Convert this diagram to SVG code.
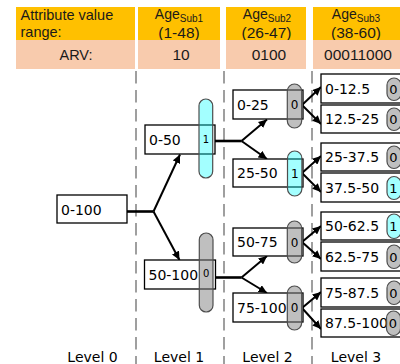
<svg xmlns="http://www.w3.org/2000/svg" width="400" height="364" viewBox="0 0 400 364">
<style>
.hy{fill:#FFC000}
.hp{fill:#F8CBAD}
.ht{font-family:"Liberation Sans",Arial,sans-serif;fill:#1a1a1a}
.box{fill:#fff;stroke:#000;stroke-width:1.3}
.lbl{font-family:"DejaVu Sans",Verdana,sans-serif;font-size:14px;fill:#000}
.p0{fill:#808080;fill-opacity:0.5;stroke:#4d4d4d;stroke-width:1.2}
.p1{fill:#00FFFF;fill-opacity:0.36;stroke:#4d4d4d;stroke-width:1.2}
.pt{font-family:"DejaVu Sans",Verdana,sans-serif;fill:#000;text-anchor:middle}
.dash{stroke:#808080;stroke-width:1.5;stroke-dasharray:12.5 6.5;fill:none}
.stem{stroke:#000;stroke-width:2.6;fill:none}
.arr{stroke:#000;stroke-width:2;fill:none;marker-end:url(#ah)}
.lev{font-family:"DejaVu Sans",Verdana,sans-serif;font-size:14px;fill:#000;text-anchor:middle}
</style>
<defs>
<marker id="ah" markerUnits="userSpaceOnUse" markerWidth="9" markerHeight="8" refX="8.5" refY="4" orient="auto">
<path d="M0,0 L8.5,4 L0,8 z" fill="#000"/>
</marker>
</defs>
<g id="header">
<rect class="hy" x="16" y="7" width="119" height="33"/>
<rect class="hy" x="138" y="7" width="82" height="33"/>
<rect class="hy" x="226" y="7" width="80" height="33"/>
<rect class="hy" x="313" y="7" width="87" height="33"/>
<text class="ht" x="20.5" y="20" font-size="14.5">Attribute value</text>
<text class="ht" x="20.5" y="36.5" font-size="14.5">range:</text>
<text class="ht" x="179" y="19" font-size="14" text-anchor="middle">Age<tspan font-size="10" dy="2.5">Sub1</tspan></text>
<text class="ht" x="179" y="37.5" font-size="15.5" text-anchor="middle">(1-48)</text>
<text class="ht" x="267" y="19" font-size="14" text-anchor="middle">Age<tspan font-size="10" dy="2.5">Sub2</tspan></text>
<text class="ht" x="266.5" y="37.5" font-size="15.5" text-anchor="middle">(26-47)</text>
<text class="ht" x="356" y="19" font-size="14" text-anchor="middle">Age<tspan font-size="10" dy="2.5">Sub3</tspan></text>
<text class="ht" x="356" y="37.5" font-size="15.5" text-anchor="middle">(38-60)</text>
<rect class="hp" x="16" y="40" width="119" height="29"/>
<rect class="hp" x="138" y="40" width="82" height="29"/>
<rect class="hp" x="226" y="40" width="80" height="29"/>
<rect class="hp" x="313" y="40" width="87" height="29"/>
<text class="ht" x="76" y="60" font-size="14.5" text-anchor="middle">ARV:</text>
<text class="ht" x="181" y="60" font-size="15.5" text-anchor="middle">10</text>
<text class="ht" x="269" y="60" font-size="15.5" text-anchor="middle">0100</text>
<text class="ht" x="358" y="60" font-size="15.5" text-anchor="middle">00011000</text>
</g>
<g id="level-dividers">
<line class="dash" x1="136" y1="71" x2="136" y2="364"/>
<line class="dash" x1="224" y1="71" x2="224" y2="364"/>
<line class="dash" x1="312" y1="71" x2="312" y2="364"/>
</g>
<g id="connectors">
<polyline class="stem" points="127,211.5 153.5,211.5"/>
<line class="arr" x1="153.5" y1="211.5" x2="180" y2="154.5"/>
<line class="arr" x1="153.5" y1="211.5" x2="179.5" y2="260"/>
<polyline class="stem" points="213,141 241.5,141"/>
<line class="arr" x1="241.5" y1="141" x2="267" y2="119.5"/>
<line class="arr" x1="241.5" y1="141" x2="267" y2="159"/>
<polyline class="stem" points="213,277.5 241.5,277.5"/>
<line class="arr" x1="241.5" y1="277.5" x2="267" y2="256"/>
<line class="arr" x1="241.5" y1="277.5" x2="267" y2="293"/>
<line class="arr" x1="302" y1="105" x2="321" y2="87"/>
<line class="arr" x1="302" y1="105" x2="321" y2="124"/>
<line class="arr" x1="302" y1="173" x2="321" y2="156"/>
<line class="arr" x1="302" y1="173" x2="321" y2="192"/>
<line class="arr" x1="302" y1="242" x2="321" y2="226"/>
<line class="arr" x1="302" y1="242" x2="321" y2="259"/>
<line class="arr" x1="302" y1="308" x2="321" y2="292"/>
<line class="arr" x1="302" y1="308" x2="321" y2="329"/>
</g>
<g id="n-0-100">
<rect class="box" x="57" y="195" width="70" height="28"/>
<text class="lbl" x="61" y="214.5">0-100</text>
</g>
<g id="n-0-50">
<rect class="box" x="145" y="125" width="70" height="29"/>
<text class="lbl" x="149" y="144.5">0-50</text>
<rect class="p1" x="199" y="99" width="13.7" height="79" rx="6.85"/>
<text class="pt" x="206" y="143.3" font-size="10">1</text>
</g>
<g id="n-50-100">
<rect class="box" x="144.5" y="260" width="71" height="29"/>
<text class="lbl" x="148.5" y="279.5">50-100</text>
<rect class="p0" x="199.3" y="233" width="13.7" height="79" rx="6.85"/>
<text class="pt" x="206.2" y="276.5" font-size="10">0</text>
</g>
<g id="n-0-25">
<rect class="box" x="233" y="90" width="70" height="29"/>
<text class="lbl" x="237" y="109.5">0-25</text>
<rect class="p0" x="287.3" y="84" width="14.4" height="44" rx="7.2"/>
<text class="pt" x="294.5" y="109.3" font-size="12">0</text>
</g>
<g id="n-25-50">
<rect class="box" x="233" y="159" width="70" height="28"/>
<text class="lbl" x="237" y="178">25-50</text>
<rect class="p1" x="287.5" y="151" width="14.4" height="45" rx="7.2"/>
<text class="pt" x="294.7" y="177.5" font-size="12">1</text>
</g>
<g id="n-50-75">
<rect class="box" x="233" y="228" width="70" height="28"/>
<text class="lbl" x="237" y="247">50-75</text>
<rect class="p0" x="287.3" y="221" width="14.4" height="42" rx="7.2"/>
<text class="pt" x="294.5" y="246.5" font-size="12">0</text>
</g>
<g id="n-75-100">
<rect class="box" x="233" y="293" width="70" height="29"/>
<text class="lbl" x="237" y="312.5">75-100</text>
<rect class="p0" x="287.3" y="286" width="14.4" height="44" rx="7.2"/>
<text class="pt" x="294.5" y="312" font-size="12">0</text>
</g>
<g id="n-0-12.5">
<rect class="box" x="321" y="74" width="90" height="29"/>
<text class="lbl" x="325" y="93.5">0-12.5</text>
<rect class="p0" x="387" y="78" width="14" height="22.5" rx="7"/>
<text class="pt" x="393.5" y="93.5" font-size="13">0</text>
</g>
<g id="n-12.5-25">
<rect class="box" x="321" y="105" width="90" height="28"/>
<text class="lbl" x="325" y="124">12.5-25</text>
<rect class="p0" x="387" y="108" width="14" height="22.5" rx="7"/>
<text class="pt" x="393.5" y="124" font-size="13">0</text>
</g>
<g id="n-25-37.5">
<rect class="box" x="321" y="143" width="90" height="28"/>
<text class="lbl" x="325" y="162">25-37.5</text>
<rect class="p0" x="387" y="146" width="14" height="22.5" rx="7"/>
<text class="pt" x="393.5" y="162" font-size="13">0</text>
</g>
<g id="n-37.5-50">
<rect class="box" x="321" y="173" width="90" height="29"/>
<text class="lbl" x="325" y="192.5">37.5-50</text>
<rect class="p1" x="387" y="176.5" width="14" height="23" rx="7"/>
<text class="pt" x="393.5" y="192.5" font-size="13">1</text>
</g>
<g id="n-50-62.5">
<rect class="box" x="321" y="212" width="90" height="28"/>
<text class="lbl" x="325" y="231">50-62.5</text>
<rect class="p1" x="387" y="214" width="14" height="24.5" rx="7"/>
<text class="pt" x="393.5" y="231" font-size="13">1</text>
</g>
<g id="n-62.5-75">
<rect class="box" x="321" y="242" width="90" height="29"/>
<text class="lbl" x="325" y="261.5">62.5-75</text>
<rect class="p0" x="387" y="245" width="14" height="23.5" rx="7"/>
<text class="pt" x="393.5" y="261.5" font-size="13">0</text>
</g>
<g id="n-75-87.5">
<rect class="box" x="321" y="278" width="90" height="29"/>
<text class="lbl" x="325" y="297.5">75-87.5</text>
<rect class="p0" x="387" y="281" width="14" height="23.5" rx="7"/>
<text class="pt" x="393.5" y="297.5" font-size="13">0</text>
</g>
<g id="n-87.5-100">
<rect class="box" x="321" y="309" width="90" height="28"/>
<text class="lbl" x="325" y="328">87.5-100</text>
<rect class="p0" x="386.5" y="311" width="14" height="24.5" rx="7"/>
<text class="pt" x="393" y="328" font-size="13">0</text>
</g>
<g id="level-labels">
<text class="lev" x="92.5" y="362">Level 0</text>
<text class="lev" x="179" y="362">Level 1</text>
<text class="lev" x="267.5" y="362">Level 2</text>
<text class="lev" x="356" y="362">Level 3</text>
</g>
</svg>
